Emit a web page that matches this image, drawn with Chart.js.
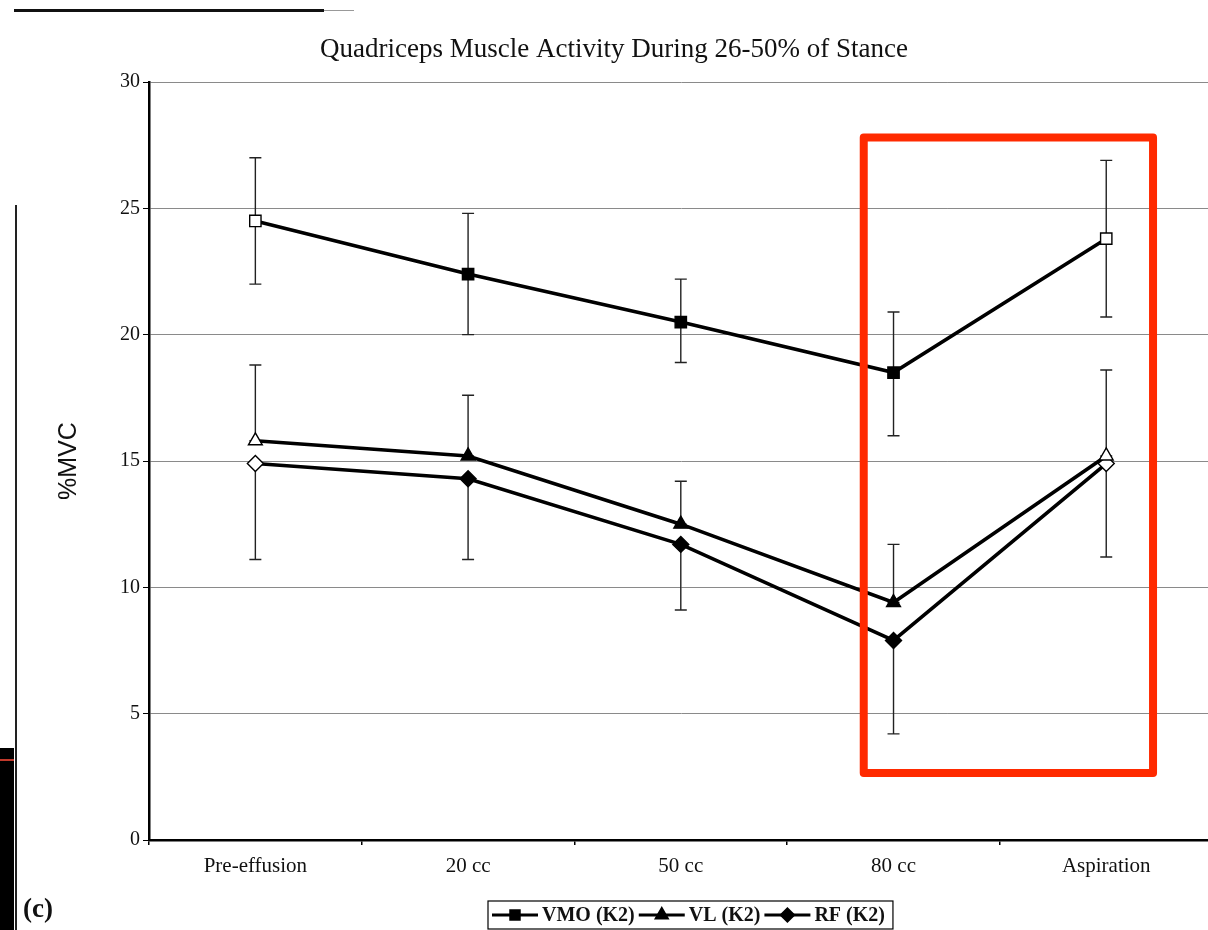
<!DOCTYPE html>
<html>
<head>
<meta charset="utf-8">
<script src="https://cdn.jsdelivr.net/npm/chart.js@4.4.1/dist/chart.umd.min.js"></script>
<style>
  html, body { margin: 0; padding: 0; background: #fff; }
  #wrap { position: relative; width: 1208px; height: 930px; overflow: hidden; }
  #chart { position: absolute; left: 0; top: 0; }
  .scan { position: absolute; }
</style>
</head>
<body>
<div id="wrap">
  <!-- canvas a bit wider than the page: the scan crops the plot at the right edge -->
  <canvas id="chart" width="1222" height="930"></canvas>
  <!-- scan leftovers around the figure -->
  <div class="scan" style="left:14px; top:9px; width:310px; height:3px; background:#111;"></div>
  <div class="scan" style="left:324px; top:10px; width:30px; height:1px; background:#999;"></div>
  <div class="scan" style="left:15px; top:205px; width:2px; height:725px; background:#222;"></div>
  <div class="scan" style="left:0; top:748px; width:14px; height:182px; background:#000;"></div>
  <div class="scan" style="left:0; top:759px; width:14px; height:2px; background:#c0392b;"></div>
  <div class="scan" style="left:23px; top:893px; font: bold 27px 'Liberation Serif', serif; color:#111;">(c)</div>
</div>
<script>
// categories and series (%MVC)
const stages = ["Pre-effusion", "20 cc", "50 cc", "80 cc", "Aspiration"];

const vmo = [24.5, 22.4, 20.5, 18.5, 23.8];
const vmoHigh = [27.0, 24.8, 22.2, 20.9, 26.9];
const vmoLow = [22.0, 20.0, 18.9, 16.0, 20.7];

const vl = [15.8, 15.2, 12.5, 9.4, 15.2];
const vlHigh = [18.8, 17.6, 14.2, 11.7, 18.6];

const rf = [14.9, 14.3, 11.7, 7.9, 14.9];
const rfLow = [11.1, 11.1, 9.1, 4.2, 11.2];

const yTicks = [0, 5, 10, 15, 20, 25, 30];

const chartTitle = "Quadriceps Muscle Activity During 26-50% of Stance";

// highlight box, in axis units (category index / %MVC)
const highlight = { xFrom: 2.86, xTo: 4.22, yFrom: 27.8, yTo: 2.65 };

const serif = "'Liberation Serif', 'Times New Roman', serif";

function openEnds(ctx) {
    const i = ctx.dataIndex;
    return i === 0 || i === stages.length - 1 ? "#fff" : "#000";
}

// title, a little right of the page centre like the scan
const scanTitle = {
    id: "scanTitle",
    afterDraw(chart) {
        const ctx = chart.ctx;
        ctx.save();
        ctx.font = "27px " + serif;
        ctx.fillStyle = "#111";
        ctx.textAlign = "center";
        ctx.textBaseline = "middle";
        ctx.fillText(chartTitle, 614, 50);
        ctx.restore();
    },
};

// error bars drawn under the lines
const errorBars = {
    id: "errorBars",
    beforeDatasetsDraw(chart) {
        const { ctx, scales } = chart;
        const bars = [
            [vmoHigh, vmoLow],
            [vlHigh, vl],
            [rf, rfLow],
        ];
        ctx.save();
        ctx.strokeStyle = "#222";
        ctx.lineWidth = 1.4;
        bars.forEach(function (pair) {
            const hi = pair[0], lo = pair[1];
            stages.forEach(function (s, i) {
                const x = scales.x.getPixelForValue(i);
                const y1 = scales.y.getPixelForValue(hi[i]);
                const y2 = scales.y.getPixelForValue(lo[i]);
                ctx.beginPath();
                ctx.moveTo(x, y1);
                ctx.lineTo(x, y2);
                ctx.moveTo(x - 6, y1);
                ctx.lineTo(x + 6, y1);
                ctx.moveTo(x - 6, y2);
                ctx.lineTo(x + 6, y2);
                ctx.stroke();
            });
        });
        ctx.restore();
    },
};

// boxed legend with line + marker samples
const boxLegend = {
    id: "boxLegend",
    afterDraw(chart) {
        const { ctx } = chart;
        const items = chart.data.datasets;
        ctx.save();
        ctx.font = "bold 20px " + serif;
        ctx.textBaseline = "middle";
        const sample = 46;
        const gap = 4;
        let total = 0;
        const widths = items.map(function (d) {
            const w = sample + gap + ctx.measureText(d.label).width + 4;
            total += w;
            return w;
        });
        const cy = 915;
        let x = 492;
        ctx.strokeStyle = "#000";
        ctx.lineWidth = 1.2;
        ctx.strokeRect(x - 4, cy - 14, total + 8, 28);
        items.forEach(function (d, k) {
            ctx.strokeStyle = "#000";
            ctx.lineWidth = 3;
            ctx.beginPath();
            ctx.moveTo(x, cy);
            ctx.lineTo(x + sample, cy);
            ctx.stroke();
            ctx.fillStyle = "#000";
            Chart.helpers.drawPoint(ctx, { pointStyle: d.pointStyle, radius: 6, rotation: 0, borderWidth: 1 }, x + sample / 2, cy);
            ctx.fillStyle = "#111";
            ctx.fillText(d.label, x + sample + gap, cy + 1);
            x += widths[k];
        });
        ctx.restore();
    },
};

const redBox = {
    id: "redBox",
    afterDraw(chart) {
        const { ctx, scales } = chart;
        const x1 = scales.x.getPixelForValue(highlight.xFrom);
        const x2 = scales.x.getPixelForValue(highlight.xTo);
        const y1 = scales.y.getPixelForValue(highlight.yFrom);
        const y2 = scales.y.getPixelForValue(highlight.yTo);
        ctx.save();
        ctx.strokeStyle = "#ff2a00";
        ctx.lineWidth = 8;
        ctx.lineJoin = "round";
        ctx.strokeRect(x1, y1, x2 - x1, y2 - y1);
        ctx.restore();
    },
};

function series(label, data, style) {
    return {
        label: label,
        data: data,
        borderColor: "#000",
        borderWidth: 3.6,
        pointStyle: style,
        pointRadius: 8,
        pointBorderWidth: 1.4,
        pointBorderColor: "#000",
        pointBackgroundColor: openEnds,
        tension: 0,
    };
}

new Chart(document.getElementById("chart").getContext("2d"), {
    type: "line",
    data: {
        labels: stages,
        datasets: [
            series("VMO (K2)", vmo, "rect"),
            series("VL (K2)", vl, "triangle"),
            series("RF (K2)", rf, "rectRot"),
        ],
    },
    options: {
        responsive: false,
        animation: false,
        layout: { padding: { left: 0, right: 0, top: 82, bottom: 40 } },
        plugins: {
            legend: { display: false },
            tooltip: { enabled: false },
            title: { display: false },
        },
        scales: {
            x: {
                offset: true,
                grid: {
                    display: true,
                    offset: true,
                    drawOnChartArea: false,
                    color: "#000",
                    tickLength: 5,
                    lineWidth: 1.5,
                },
                border: { color: "#000", width: 2.5 },
                ticks: {
                    color: "#111",
                    padding: 9,
                    font: { family: serif, size: 21 },
                    maxRotation: 0,
                },
                afterFit: function (s) {
                    s.height = 50;
                    s.paddingLeft = 0;
                    s.paddingRight = 0;
                },
            },
            y: {
                min: 0,
                max: 30,
                afterBuildTicks: function (s) {
                    s.ticks = yTicks.map(function (v) { return { value: v }; });
                },
                grid: {
                    color: "#8a8a8a",
                    lineWidth: 1,
                    borderDash: [12, 4, 2, 4],
                    tickLength: 6,
                    tickColor: "#000",
                    tickBorderDash: [],
                },
                border: { color: "#000", width: 2.5 },
                ticks: {
                    color: "#111",
                    padding: 3,
                    font: { family: serif, size: 20 },
                },
                title: {
                    display: true,
                    text: "%MVC",
                    color: "#111",
                    font: { family: "'Liberation Sans', Arial, sans-serif", size: 25 },
                    padding: { top: 54, bottom: 0 },
                },
                afterFit: function (s) { s.width = 149; },
            },
        },
    },
    plugins: [errorBars, redBox, scanTitle, boxLegend],
});
</script>
</body>
</html>
